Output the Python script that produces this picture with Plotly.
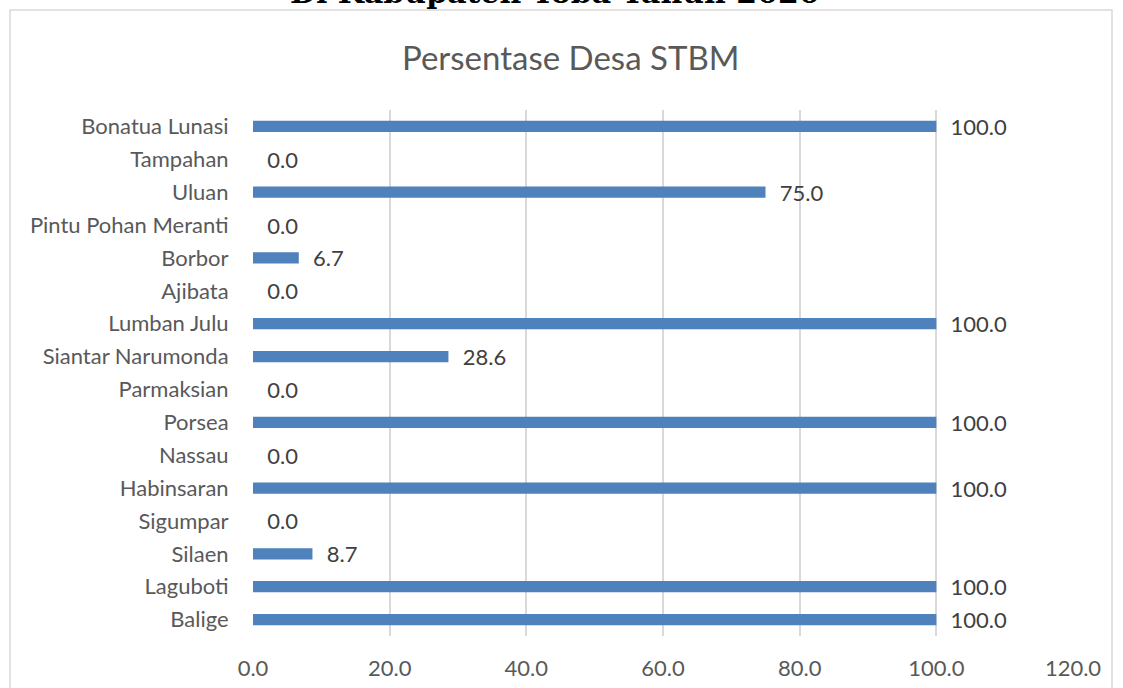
import plotly.graph_objects as go

categories = ["Balige", "Laguboti", "Silaen", "Sigumpar", "Habinsaran", "Nassau",
              "Porsea", "Parmaksian", "Siantar Narumonda", "Lumban Julu", "Ajibata",
              "Borbor", "Pintu Pohan Meranti", "Uluan", "Tampahan", "Bonatua Lunasi"]
values = [100.0, 100.0, 8.7, 0.0, 100.0, 0.0, 100.0, 0.0, 28.6, 100.0, 0.0,
          6.7, 0.0, 75.0, 0.0, 100.0]
x_ticks = [0, 20, 40, 60, 80, 100, 120]

W, H = 1123, 688
L, R, T, B = 253, 50, 110, 52
pw, ph = W - L - R, H - T - B

def px_x(p):
    return (p - L) / pw

def px_y(p):
    return (H - B - p) / ph

font = "Lato, Calibri, Carlito, sans-serif"
grey = "#595959"

fig = go.Figure(go.Bar(
    y=categories, x=values, orientation="h",
    marker=dict(color="#4F81BD", line=dict(width=0)),
    text=["\u00a0\u00a0" + f"{v:.1f}" for v in values], textposition="outside",
    textfont=dict(family=font, size=22, color="#404040"),
    constraintext="none",
    cliponaxis=False, width=0.34,
))

fig.update_layout(
    width=W, height=H,
    margin=dict(l=L, r=R, t=T, b=B, autoexpand=False),
    paper_bgcolor="white", plot_bgcolor="white",
    showlegend=False,
    font=dict(family=font, size=22, color=grey),
    xaxis=dict(range=[0, 120], tickvals=x_ticks, ticktext=[f"{v:.1f}" for v in x_ticks],
               showgrid=True, gridcolor="#D9D9D9", gridwidth=1.5, zeroline=False,
               showline=False, ticks="outside", ticklen=13, tickcolor="rgba(0,0,0,0)",
               tickfont=dict(size=22, color=grey), automargin=False),
    yaxis=dict(categoryorder="array", categoryarray=categories,
               showgrid=False, zeroline=False, showline=False,
               ticks="outside", ticklen=19, tickcolor="rgba(0,0,0,0)",
               tickfont=dict(size=22, color=grey), automargin=False),
    shapes=[
        dict(type="rect", xref="paper", yref="paper",
             x0=px_x(10), x1=px_x(1112), y0=px_y(700), y1=px_y(10),
             line=dict(color="#D9D9D9", width=1.5), fillcolor="rgba(0,0,0,0)", layer="below"),
    ],
    annotations=[
        dict(text="Persentase Desa STBM", xref="paper", yref="paper",
             x=px_x(570), y=px_y(57), xanchor="center", yanchor="middle",
             showarrow=False, font=dict(family=font, size=33, color=grey)),
        dict(text="<b>Di Kabupaten Toba Tahun 2020</b>", xref="paper", yref="paper",
             x=px_x(555), y=px_y(12), xanchor="center", yanchor="bottom",
             showarrow=False, font=dict(family="DejaVu Serif", size=30, color="black")),
    ],
)

fig.write_html("out.html", config={"displayModeBar": False},
               post_script="document.body.style.margin='0';document.body.style.overflow='hidden';")
